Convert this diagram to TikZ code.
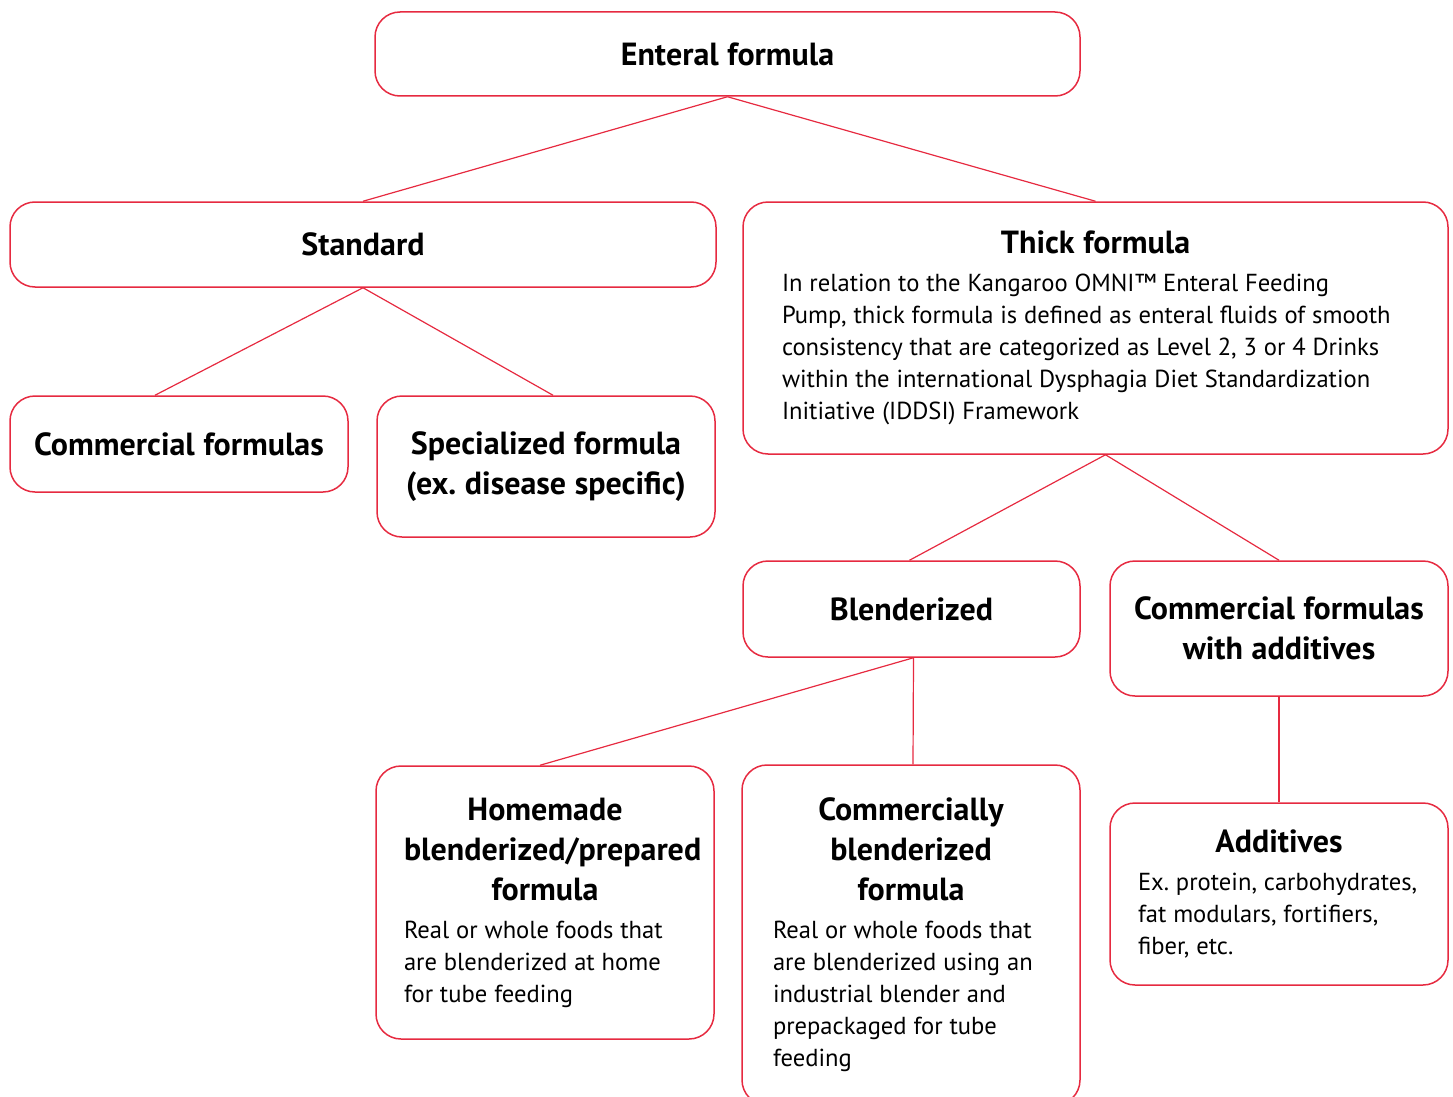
\documentclass[tikz,border=0pt]{standalone}
\usepackage{fontspec}
\setmainfont{PT Sans}
\usepackage{xcolor}
\definecolor{boxred}{HTML}{E62A40}
\frenchspacing
\newcommand{\boxtitle}{\fontsize{32}{40}\selectfont\bfseries\spaceskip=0.27em plus 0.1em minus 0.05em\relax}
\newcommand{\boxbody}{\fontsize{24.6}{32}\selectfont\spaceskip=0.28em plus 0.1em minus 0.05em\relax}

\begin{document}
\begin{tikzpicture}[x=1pt,y=-1pt,
    box/.style={draw=boxred, line width=1.5pt, rounded corners=25pt, inner sep=0pt},
    link/.style={draw=boxred, line width=1.2pt}]
    \useasboundingbox (0,0) rectangle (1453,1097);
    \clip (0,0) rectangle (1453,1097);

    \node[box, minimum width=705, minimum height=84, align=center, font=\boxtitle] (enteral) at (727.5,54) {Enteral formula};

    \node[box, minimum width=706, minimum height=85, align=center, font=\boxtitle] (standard) at (363,244.5) {Standard};
    \node[box, minimum width=705, minimum height=252, text width=627] (thick) at (1095.5,328)
      {\centering{\boxtitle Thick formula\par}\vspace{6pt}{\boxbody\raggedright In relation to the Kangaroo OMNI™ Enteral Feeding\\Pump, thick formula is defined as enteral fluids of smooth\\consistency that are categorized as Level 2, 3 or 4 Drinks\\within the international Dysphagia Diet Standardization\\Initiative (IDDSI) Framework\par}};

    \node[box, minimum width=338, minimum height=96, align=center, font=\boxtitle] (commercial) at (179,444) {Commercial formulas};
    \node[box, minimum width=338, minimum height=141, align=center, font=\boxtitle] (specialized) at (546,466.5) {Specialized formula\\(ex. disease specific)};

    \node[box, minimum width=337, minimum height=96, align=center, font=\boxtitle] (blenderized) at (911.5,609) {Blenderized};
    \node[box, minimum width=338, minimum height=135, align=center, font=\boxtitle] (withadd) at (1279,628.5) {Commercial formulas\\with additives};

    \node[box, minimum width=338, minimum height=273, text width=282] (homemade) at (545,902.5)
      {\centering{\boxtitle Homemade\\\mbox{blenderized/prepared}\\formula\par}\vspace{6pt}{\boxbody\raggedright Real or whole foods that\\are blenderized at home\\for tube feeding\par}};
    \node[box, minimum width=338, minimum height=340, text width=276] (commblend) at (911,935)
      {\centering{\boxtitle Commercially\\blenderized\\formula\par}\vspace{6pt}{\boxbody\raggedright Real or whole foods that\\are blenderized using an\\industrial blender and\\prepackaged for tube\\feeding\par}};
    \node[box, minimum width=338, minimum height=182, text width=282] (additives) at (1279,894)
      {\centering{\boxtitle Additives\par}\vspace{6pt}{\boxbody\raggedright \mbox{Ex. protein, carbohydrates,}\\fat modulars, fortifiers,\\fiber, etc.\par}};

    \draw[link] (enteral.south) -- (standard.north);
    \draw[link] (enteral.south) -- (thick.north);
    \draw[link] (standard.south) -- ([xshift=-24pt]commercial.north);
    \draw[link] (standard.south) -- ([xshift=7pt]specialized.north);
    \draw[link] ([xshift=10pt]thick.south) -- ([xshift=-2pt]blenderized.north);
    \draw[link] ([xshift=10pt]thick.south) -- (withadd.north);
    \draw[link] ([xshift=2pt]blenderized.south) -- ([xshift=-5pt]homemade.north);
    \draw[link] ([xshift=2pt]blenderized.south) -- ([xshift=2pt]commblend.north);
    \draw[link] (withadd.south) -- (additives.north);
\end{tikzpicture}
\end{document}
